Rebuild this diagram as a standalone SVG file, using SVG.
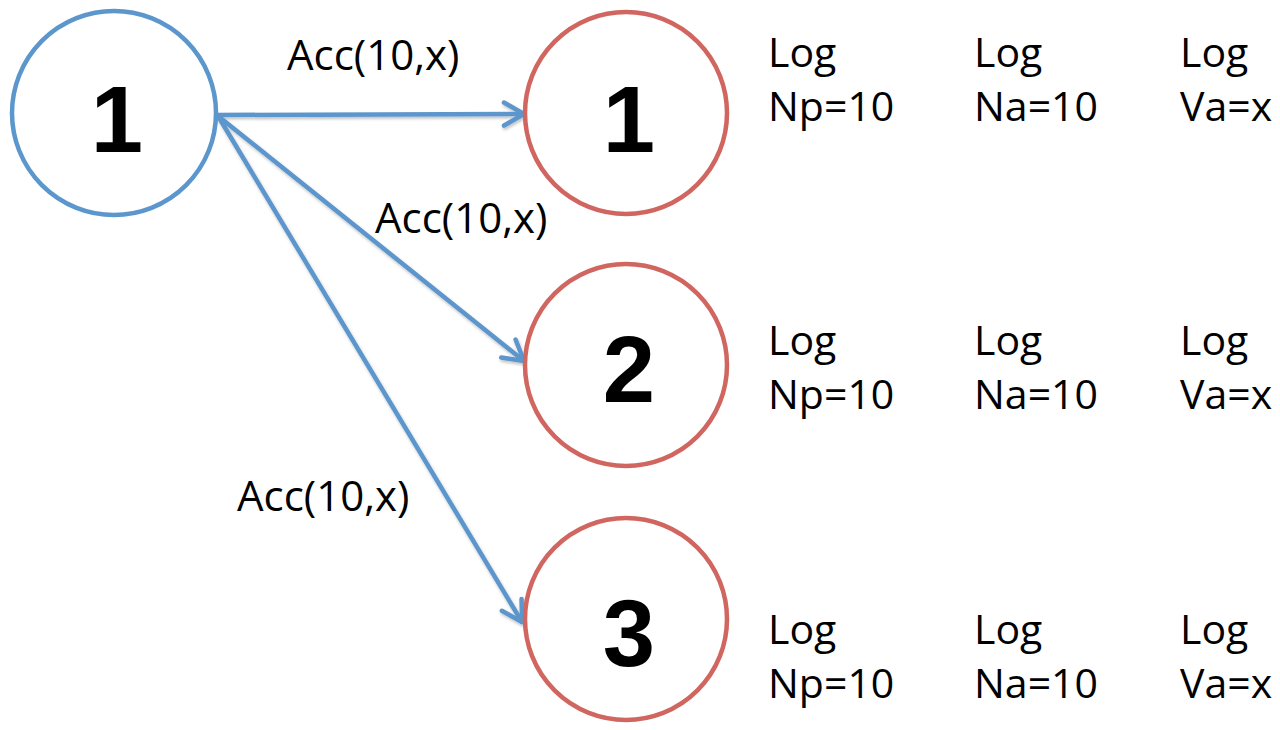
<svg xmlns="http://www.w3.org/2000/svg" width="1280" height="730" viewBox="0 0 1280 730">
  <style>
    .src { fill: #ffffff; stroke: #5b96cc; stroke-width: 4.5; }
    .dst { fill: #ffffff; stroke: #d0665f; stroke-width: 4.5; }
    .num { font-family: "Liberation Sans", Arial, sans-serif; font-weight: bold; font-size: 94px; fill: #000000; text-anchor: middle; }
    .lbl { font-family: "Open Sans", "Liberation Sans", sans-serif; font-size: 41px; fill: #000000; }
    .acc { font-size: 42px; }
    .edge { stroke: #5b96cc; stroke-width: 4.5; fill: none; stroke-linecap: round; marker-end: url(#chev); }
  </style>
  <defs>
    <marker id="chev" markerUnits="userSpaceOnUse" markerWidth="30" markerHeight="30" refX="23" refY="13" orient="auto" overflow="visible">
      <path d="M3,1.5 L23,13 L3,24.5" fill="none" stroke="#5b96cc" stroke-width="4.5" stroke-linecap="round" stroke-linejoin="round"/>
    </marker>
    <filter id="shade" filterUnits="userSpaceOnUse" x="0" y="0" width="1280" height="730">
      <feDropShadow dx="1" dy="2" stdDeviation="1.5" flood-color="#000000" flood-opacity="0.25"/>
    </filter>
  </defs>

  <!-- connectors -->
  <g id="edges">
    <g filter="url(#shade)">
      <line class="edge" x1="218" y1="115" x2="524" y2="114"/>
      <line class="edge" x1="218" y1="116" x2="524" y2="361"/>
      <line class="edge" x1="218" y1="116" x2="522" y2="622"/>
    </g>
    <text class="lbl acc" x="287" y="70">Acc(10,x)</text>
    <text class="lbl acc" x="375" y="233">Acc(10,x)</text>
    <text class="lbl acc" x="237" y="511">Acc(10,x)</text>
  </g>

  <!-- sender -->
  <g id="node-src">
    <circle class="src" cx="114" cy="113" r="102"/>
    <text class="num" x="117" y="152">1</text>
  </g>

  <!-- receivers -->
  <g id="node-1">
    <circle class="dst" cx="626" cy="113" r="101"/>
    <text class="num" x="629" y="152">1</text>
  </g>
  <g id="node-2">
    <circle class="dst" cx="626" cy="365" r="101"/>
    <text class="num" x="629" y="402">2</text>
  </g>
  <g id="node-3">
    <circle class="dst" cx="626" cy="619" r="101"/>
    <text class="num" x="629" y="666">3</text>
  </g>

  <!-- log columns -->
  <g id="logs-1">
    <text class="lbl" x="768" y="67">Log</text>
    <text class="lbl" x="768" y="121">Np=10</text>
    <text class="lbl" x="974" y="67">Log</text>
    <text class="lbl" x="974" y="121">Na=10</text>
    <text class="lbl" x="1180" y="67">Log</text>
    <text class="lbl" x="1180" y="121">Va=x</text>
  </g>
  <g id="logs-2">
    <text class="lbl" x="768" y="355">Log</text>
    <text class="lbl" x="768" y="409">Np=10</text>
    <text class="lbl" x="974" y="355">Log</text>
    <text class="lbl" x="974" y="409">Na=10</text>
    <text class="lbl" x="1180" y="355">Log</text>
    <text class="lbl" x="1180" y="409">Va=x</text>
  </g>
  <g id="logs-3">
    <text class="lbl" x="768" y="644">Log</text>
    <text class="lbl" x="768" y="698">Np=10</text>
    <text class="lbl" x="974" y="644">Log</text>
    <text class="lbl" x="974" y="698">Na=10</text>
    <text class="lbl" x="1180" y="644">Log</text>
    <text class="lbl" x="1180" y="698">Va=x</text>
  </g>
</svg>
